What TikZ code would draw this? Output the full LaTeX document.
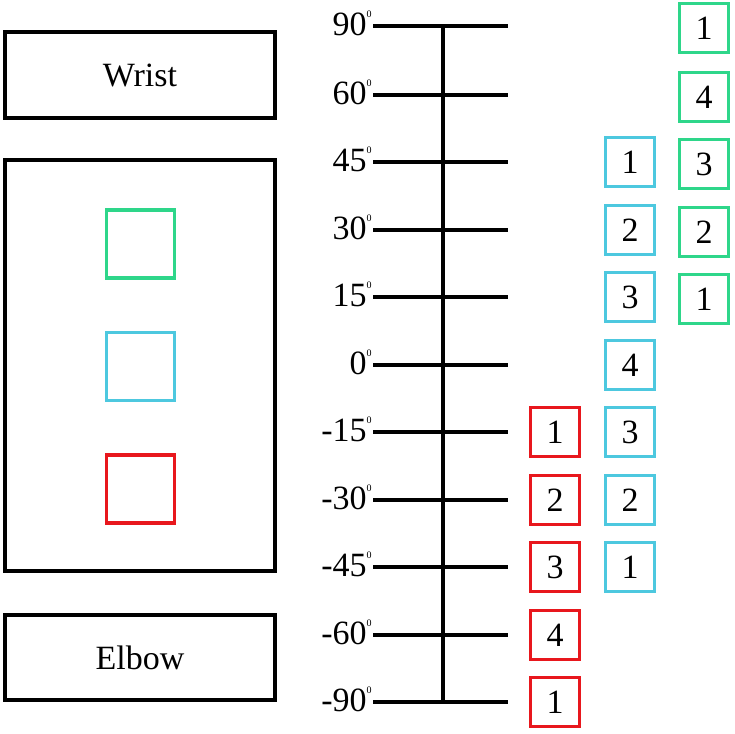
\documentclass[tikz,border=0pt]{standalone}
\usepackage{fontspec}
\setmainfont{Liberation Serif}
\usetikzlibrary{positioning}

\definecolor{boxgreen}{RGB}{46,214,138}
\definecolor{boxblue}{RGB}{77,200,223}
\definecolor{boxred}{RGB}{232,23,29}

\begin{document}
\begin{tikzpicture}[
  x=0.5pt, y=-0.5pt,
  font=\fontsize{17}{20}\selectfont,
  part/.style={rectangle, draw=black, line width=2pt, minimum width=135pt, inner sep=0pt},
  marker/.style={rectangle, draw=#1, line width=1.6pt, minimum size=34pt, inner sep=0pt},
  trial/.style={rectangle, draw=#1, line width=1.7pt, minimum size=24.5pt, inner sep=0pt},
  tickline/.style={line width=2pt}
]
\useasboundingbox (0,0) rectangle (734,734);

% arm segments
\node (wrist) [part, minimum height=43pt] at (140,75) {Wrist};
\node (forearm) [part, minimum height=205.5pt] at (140,365.5) {};
\node (elbow) [part, minimum height=42.5pt] at (140,657.5) {Elbow};

\node (mgreen) [marker=boxgreen] at (140.5,244) {};
\node (mblue) [marker=boxblue] at (140.5,366.5) {};
\node (mred) [marker=boxred] at (140.5,489) {};

% angle scale
\foreach \y/\a/\n in {26/90/p90, 95/60/p60, 162/45/p45, 230/30/p30, 297/15/p15, 365/0/z0,
    432/-15/m15, 500/-30/m30, 567/-45/m45, 635/-60/m60, 702/-90/m90} {
  \coordinate (l\n) at (373,\y);
  \coordinate (r\n) at (508,\y);
  \draw [tickline] (l\n) -- (r\n);
  \node (a\n) [anchor=base east, inner sep=0pt] at (372,\y+9) {\a\raisebox{9pt}{\fontsize{5}{6}\selectfont 0}};
}
\coordinate (axis) at (443,0);
\draw [tickline] (axis |- lp90) -- (axis |- lm90);

% trials
\coordinate (gcol) at (704,0);
\coordinate (bcol) at (630,0);
\coordinate (rcol) at (555,0);
\foreach \n/\k in {p90/1, p60/4, p45/3, p30/2, p15/1}
  \node (g\n) [trial=boxgreen, yshift=-1pt] at (gcol |- l\n) {\k};
\foreach \n/\k in {p45/1, p30/2, p15/3, z0/4, m15/3, m30/2, m45/1}
  \node (b\n) [trial=boxblue] at (bcol |- l\n) {\k};
\foreach \n/\k in {m15/1, m30/2, m45/3, m60/4, m90/1}
  \node (r\n) [trial=boxred] at (rcol |- l\n) {\k};

\end{tikzpicture}
\end{document}
